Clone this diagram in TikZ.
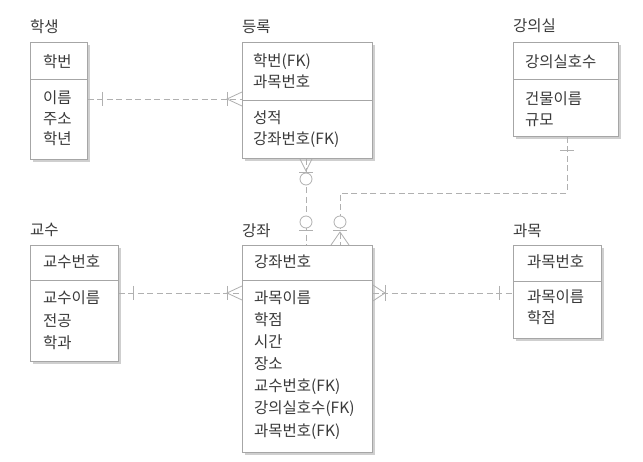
\documentclass[tikz,border=0pt]{standalone}
\usepackage{fontspec}
\setmainfont{Noto Sans CJK KR}
\usetikzlibrary{shadows}
\definecolor{boxc}{HTML}{A6A6A6}
\definecolor{txtc}{HTML}{3A3A3A}
\definecolor{lnc}{HTML}{B0B0B0}
\definecolor{shc}{HTML}{CFCFCF}
\tikzset{
  ent/.style={draw=boxc, fill=white, line width=0.9pt, anchor=north west, inner sep=0pt,
    drop shadow={shadow xshift=3pt, shadow yshift=-3pt, fill=shc, opacity=1}},
  fld/.style={anchor=west, inner sep=0pt, text=txtc, font=\fontsize{15.5}{18}\selectfont},
  ttl/.style={anchor=west, inner sep=0pt, text=txtc, font=\fontsize{15.5}{18}\selectfont},
  divl/.style={draw=boxc, line width=0.9pt},
  conn/.style={draw=lnc, line width=0.8pt, dash pattern=on 6pt off 3.5pt},
  mk/.style={draw=lnc, line width=0.8pt}
}
\begin{document}
\begin{tikzpicture}[x=1pt,y=-1pt]
\useasboundingbox[fill=white] (0,0) rectangle (643,462);

% ---------- entities ----------
\node[ent, minimum width=57pt, minimum height=117pt] (stu) at (30,42) {};
\node[ent, minimum width=130pt, minimum height=116pt] (reg) at (242,42) {};
\node[ent, minimum width=105pt, minimum height=94pt] (room) at (513,42) {};
\node[ent, minimum width=88pt, minimum height=116pt] (prof) at (30,245) {};
\node[ent, minimum width=130pt, minimum height=207pt] (crs) at (242,245) {};
\node[ent, minimum width=88pt, minimum height=93pt] (subj) at (513,245) {};

% dividers
\draw[divl] (stu.west |- 0,79) -- (stu.east |- 0,79);
\draw[divl] (reg.west |- 0,100) -- (reg.east |- 0,100);
\draw[divl] (room.west |- 0,79) -- (room.east |- 0,79);
\draw[divl] (prof.west |- 0,280) -- (prof.east |- 0,280);
\draw[divl] (crs.west |- 0,280) -- (crs.east |- 0,280);
\draw[divl] (subj.west |- 0,281) -- (subj.east |- 0,281);

% titles
\node[ttl] (t-stu) at (30,27) {학생};
\node[ttl] (t-reg) at (242,27) {등록};
\node[ttl] (t-room) at (513,26) {강의실};
\node[ttl] (t-prof) at (30,230) {교수};
\node[ttl] (t-crs) at (242,231) {강좌};
\node[ttl] (t-subj) at (513,231) {과목};

% fields
\node[fld] (stu1) at (43,62) {학번};
\node[fld] (stu2) at (43,98) {이름};
\node[fld] (stu3) at (43,119) {주소};
\node[fld] (stu4) at (43,139) {학년};

\node[fld] (reg1) at (253,62) {학번(FK)};
\node[fld] (reg2) at (253,82) {과목번호};
\node[fld] (reg3) at (253,118) {성적};
\node[fld] (reg4) at (253,140) {강좌번호(FK)};

\node[fld] (room1) at (525,62) {강의실호수};
\node[fld] (room2) at (525,99) {건물이름};
\node[fld] (room3) at (525,120) {규모};

\node[fld] (prof1) at (43,262) {교수번호};
\node[fld] (prof2) at (43,298) {교수이름};
\node[fld] (prof3) at (43,321) {전공};
\node[fld] (prof4) at (43,343) {학과};

\node[fld] (crs1) at (254,262) {강좌번호};
\node[fld] (crs2) at (254,298) {과목이름};
\node[fld] (crs3) at (254,320) {학점};
\node[fld] (crs4) at (254,342) {시간};
\node[fld] (crs5) at (254,364) {장소};
\node[fld] (crs6) at (254,387) {교수번호(FK)};
\node[fld] (crs7) at (254,409) {강의실호수(FK)};
\node[fld] (crs8) at (254,432) {과목번호(FK)};

\node[fld] (subj1) at (527,262) {과목번호};
\node[fld] (subj2) at (527,297) {과목이름};
\node[fld] (subj3) at (527,318) {학점};

% ---------- connectors ----------
% 학생 -- 등록
\draw[conn] (stu.east |- 0,99) -- (reg.west |- 0,99);
\draw[mk] (102,92) -- (102,106);
\draw[mk] (227,92) -- (227,106);
\draw[mk] (reg.west |- 0,92) -- (227,99) -- (reg.west |- 0,106);

% 교수 -- 강좌
\draw[conn] (prof.east |- 0,293) -- (crs.west |- 0,293);
\draw[mk] (133,286) -- (133,300);
\draw[mk] (227,286) -- (227,300);
\draw[mk] (crs.west |- 0,286) -- (227,293) -- (crs.west |- 0,300);

% 강좌 -- 과목
\draw[conn] (crs.east |- 0,293) -- (subj.west |- 0,293);
\draw[mk] (385,285) -- (385,301);
\draw[mk] (crs.east |- 0,285) -- (385,293) -- (crs.east |- 0,301);
\draw[mk] (499,286) -- (499,300);

% 등록 -- 강좌
\draw[conn] (reg.south -| 306,0) -- (crs.north -| 306,0);
\draw[mk] (reg.south -| 300,0) -- (306,171) -- (reg.south -| 312,0);
\draw[mk] (299,172) -- (313,172);
\draw[mk, fill=white] (306,179) circle (6);
\draw[mk, fill=white] (306,222) circle (6);
\draw[mk] (299,230) -- (313,230);

% 강의실 -- 강좌
\draw[conn] (room.south -| 567,0) -- (567,193) -- (340,193) -- (crs.north -| 340,0);
\draw[mk] (560,150) -- (574,150);
\draw[mk, fill=white] (340,222) circle (6);
\draw[mk] (333,230) -- (347,230);
\draw[mk] (crs.north -| 331,0) -- (340,232) -- (crs.north -| 349,0);
\end{tikzpicture}
\end{document}
